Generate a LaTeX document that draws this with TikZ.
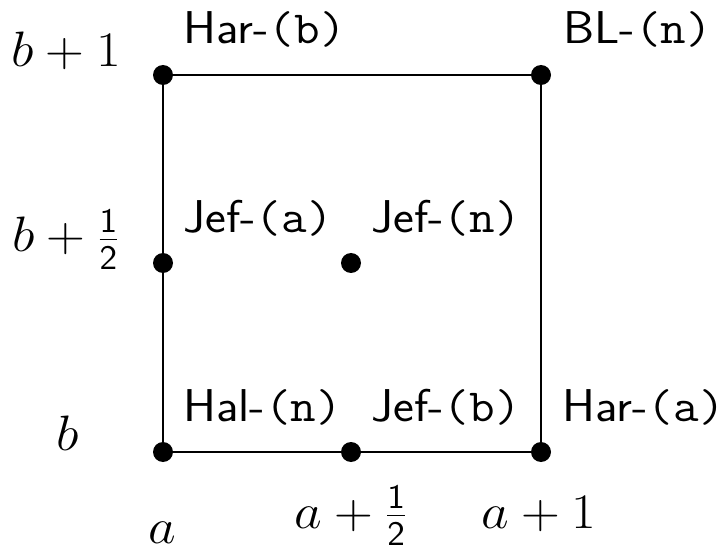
\documentclass[tikz,border=0pt]{standalone}
\usepackage{graphicx}
\begin{document}
\begin{tikzpicture}[x=0.5pt,y=-0.5pt,
  dot/.style={circle,fill=black,inner sep=0pt,minimum size=10pt},
  edge/.style={line width=1.3pt},
  lbl/.style={anchor=base west,inner sep=0pt,font=\fontsize{23}{27}\selectfont\sffamily},
  mlbl/.style={anchor=base,inner sep=0pt,font=\fontsize{25}{30}\selectfont}]
\useasboundingbox (0,0) rectangle (724,551);
\newcommand\hs[1]{\scalebox{1.08}[1]{#1}}
\newcommand\ms[1]{\scalebox{1.08}[1]{#1}}
% dots
\node[dot] (p00) at (163,452) {};
\node[dot] (pm0) at (351,452) {};
\node[dot] (p10) at (541,452) {};
\node[dot] (p0m) at (163,263) {};
\node[dot] (pmm) at (351,263) {};
\node[dot] (p01) at (163,75) {};
\node[dot] (p11) at (541,75) {};
% edges
\draw[edge] (p00) -- (pm0);
\draw[edge] (pm0) -- (p10);
\draw[edge] (p10) -- (p11);
\draw[edge] (p11) -- (p01);
\draw[edge] (p01) -- (p0m);
\draw[edge] (p0m) -- (p00);
% labels
\node[lbl] (l1) at (183,44) {\hs{Har-\texttt{(b)}}};
\node[lbl] (l2) at (563,44) {\hs{BL-\texttt{(n)}}};
\node[lbl] (l3) at (183,233) {\hs{Jef-\texttt{(a)}}};
\node[lbl] (l4) at (371,233) {\hs{Jef-\texttt{(n)}}};
\node[lbl] (l5) at (183,422) {\hs{Hal-\texttt{(n)}}};
\node[lbl] (l6) at (371,422) {\hs{Jef-\texttt{(b)}}};
\node[lbl] (l7) at (562,422) {\hs{Har-\texttt{(a)}}};
% axis labels
\node[mlbl] (y1) at (66,67) {\ms{$b+1$}};
\node[mlbl] (y2) at (66,252) {\ms{$b+\frac{\mathsf{1}}{\mathsf{2}}$}};
\node[mlbl] (y3) at (68,451) {\ms{$b$}};
\node[mlbl] (x1) at (162,543) {\ms{$a$}};
\node[mlbl] (x2) at (351,528) {\ms{$a+\frac{\mathsf{1}}{\mathsf{2}}$}};
\node[mlbl] (x3) at (539,528) {\ms{$a+1$}};
\end{tikzpicture}
\end{document}
